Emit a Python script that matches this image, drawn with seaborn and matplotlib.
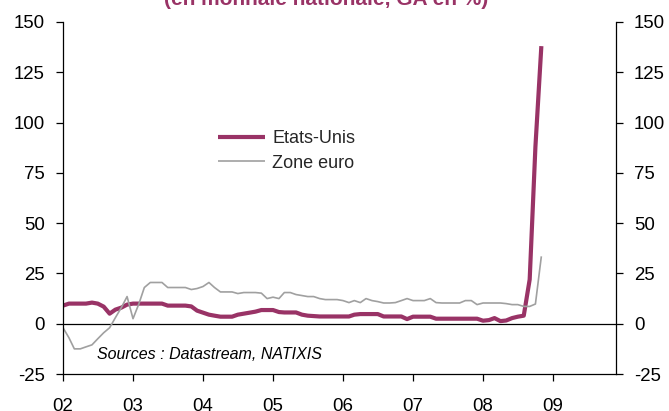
import numpy as np
import pandas as pd
import matplotlib
matplotlib.use("Agg")
import matplotlib.pyplot as plt
import seaborn as sns

# Monthly observations, Dec 2001 - Oct 2008 (month-end)
months = pd.date_range("2001-12-31", "2008-10-31", freq="ME")

etats_unis = [
    9, 10, 10, 10, 10, 10.5, 10, 8.5, 5, 7, 8, 9.5,
    10, 10, 10, 10, 10, 10,
    9, 9, 9, 9, 8.6, 6.5,
    5.5, 4.5, 4, 3.5, 3.5, 3.5, 4.5, 5, 5.5, 6, 6.8, 6.8,
    6.8, 5.8, 5.6, 5.6, 5.6, 4.5, 4, 3.8, 3.6, 3.6, 3.6, 3.6,
    3.6, 3.6, 4.5, 4.8, 4.8, 4.8, 4.8, 3.6, 3.6, 3.6, 3.6, 2.3,
    3.5, 3.5, 3.5, 3.5, 2.5, 2.5, 2.5, 2.5, 2.5, 2.5, 2.5, 2.5,
    1.5, 1.8, 2.8, 1.3, 1.6, 2.8, 3.5, 4, 22, 88, 138,
]

zone_euro = [
    -2, -7, -12.5, -12.5, -11.5, -10.5, -7.5, -4.5, -2, 3, 8, 13.5,
    2.5, 10, 18, 20.5, 20.5, 20.5, 18, 18, 18, 18, 17, 17.5,
    18.5, 20.5, 18, 15.8, 15.8, 15.8, 15, 15.5, 15.5, 15.5, 15.2, 12.5,
    13.2, 12.5, 15.5, 15.5, 14.5, 14, 13.5, 13.5, 12.5, 12, 12, 12,
    11.5, 10.5, 11.5, 10.5, 12.5, 11.5, 11, 10.3, 10.3, 10.5, 11.5, 12.5,
    11.5, 11.5, 11.5, 12.5, 10.5, 10.3, 10.3, 10.3, 10.3, 11.5, 11.5, 9.5,
    10.3, 10.3, 10.3, 10.3, 10, 9.5, 9.5, 8.6, 8.6, 9.8, 33.5,
]

series_names = ["Etats-Unis", "Zone euro"]
year_ticks = list(range(2002, 2010))
year_labels = ["02", "03", "04", "05", "06", "07", "08", "09"]
y_ticks = [-25, 0, 25, 50, 75, 100, 125, 150]

# decimal-year position of each month-end
pos = months.year + months.dayofyear / np.where(months.is_leap_year, 366, 365)

df = pd.concat([
    pd.DataFrame({"t": pos, "v": etats_unis, "serie": series_names[0]}),
    pd.DataFrame({"t": pos, "v": zone_euro, "serie": series_names[1]}),
], ignore_index=True)

sns.set_style("ticks")
plt.rcParams["font.family"] = ["Liberation Sans", "DejaVu Sans"]

plum = "#993366"
grey = "#A0A0A0"

fig = plt.figure(figsize=(6.69, 4.11), dpi=100)
ax = fig.add_axes([0.0942, 0.0900, 0.8266, 0.8565])

sns.lineplot(
    data=df, x="t", y="v", hue="serie", size="serie",
    hue_order=series_names, size_order=series_names,
    palette={series_names[0]: plum, series_names[1]: grey},
    sizes={series_names[0]: 3.0, series_names[1]: 1.2},
    ax=ax, legend=True,
)
for ln in ax.get_lines():
    ln.set_solid_joinstyle("round")
    ln.set_solid_capstyle("butt")

ax.axhline(0, color="black", lw=0.9, zorder=1)

ax.set_xlim(2002, 2002 + 553 / 70)
ax.set_ylim(-25, 150)
ax.set_xticks(year_ticks)
ax.set_xticklabels(year_labels)
ax.set_yticks(y_ticks)
ax.set_yticklabels([str(v) for v in y_ticks])
ax.set_xlabel("")
ax.set_ylabel("")

for side in ("top", "right"):
    ax.spines[side].set_visible(False)
for side in ("left", "bottom"):
    ax.spines[side].set_color("black")
    ax.spines[side].set_linewidth(0.9)

ax.tick_params(axis="x", direction="out", length=5, width=0.9, pad=12,
               labelsize=13.4, colors="black")
ax.tick_params(axis="y", direction="out", length=5, width=0.9, pad=8,
               labelsize=13.4, colors="black")

ax2 = ax.twinx()
ax2.set_ylim(-25, 150)
ax2.set_yticks(y_ticks)
ax2.set_yticklabels([str(v) for v in y_ticks])
for side in ("top", "left", "bottom"):
    ax2.spines[side].set_visible(False)
ax2.spines["right"].set_color("black")
ax2.spines["right"].set_linewidth(0.9)
ax2.tick_params(axis="y", direction="out", length=5, width=0.9, pad=8,
                labelsize=13.4, colors="black")

leg = ax.legend(
    loc="center left", bbox_to_anchor=(0.280, 0.634),
    frameon=False, fontsize=13, handlelength=2.6, handletextpad=0.4,
    labelspacing=0.42, borderpad=0, borderaxespad=0,
)

ax.text(2002.49, -15.4, "Sources : Datastream, NATIXIS", style="italic",
        fontsize=11.5, ha="left", va="center", color="black")

fig.text(0.487, 0.988, "(en monnaie nationale, GA en %)", ha="center",
         va="baseline", fontsize=15, weight="bold", color=plum)

fig.savefig("out.png", dpi=100)
